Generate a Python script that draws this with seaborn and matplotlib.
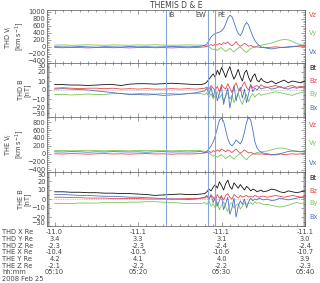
import matplotlib
matplotlib.use("Agg")
import matplotlib.pyplot as plt
import matplotlib.transforms as mtransforms
from matplotlib.ticker import MultipleLocator
import seaborn as sns
import pandas as pd

# minutes after 05:10 UT, 2008 Feb 25
T = [0, 1, 2, 3, 4, 5, 6, 7, 8, 9, 10, 11, 12, 13, 14, 15, 16, 17, 17.5,
     18, 18.25, 18.5, 18.75, 19, 19.25, 19.5, 19.75, 20, 20.25, 20.5, 20.75,
     21, 21.25, 21.5, 21.75, 22, 22.25, 22.5, 22.75, 23, 23.25, 23.5, 23.75,
     24, 24.25, 24.5, 24.75, 25,
     25.5, 26, 26.5, 27, 27.5, 28, 28.5, 29, 29.5, 30]

# THD ion velocity (km/s)
thd_vx = [5, 0, -5, 10, 0, -10, 5, 0, -5, 10, 0, 5, -5, 0, 10, 5, 0, 10, 20,
          40, 80, 180, 280, 340, 380, 400, 420, 450, 520, 650, 820, 900, 860, 700, 520,
          380, 320, 420, 600, 700, 620, 450, 300, 180, 100, 40, 0, -20,
          -40, -60, -40, -20, -10, 0, 10, 20, 40, 50]
thd_vy = [50, 55, 45, 50, 60, 50, 45, 55, 50, 45, 55, 50, 60, 50, 45, 50, 55, 50, 50,
          40, 20, 0, -40, -80, -60, -100, -50, -20, -80, -130, -90, -40, -100, -150,
          -80, -30, 0, -60, -120, -160, -100, -50, -20, 0, 20, 40, 50, 60,
          80, 110, 150, 190, 210, 200, 150, 100, 60, 50]
thd_vz = [-20, -25, -15, -20, -30, -20, -15, -25, -20, -30, -20, -15, -25, -20, -30, -20, -25, -20, -10,
          0, 20, 40, 60, 30, 80, 50, 100, 60, 120, 90, 140, 70, 30, 80, 150, 60, 20,
          50, 100, 60, 20, 40, 10, -10, 0, -10, -20, -10,
          -20, -10, 0, -10, -20, -10, 0, 10, 0, 10]

# THD magnetic field (nT)
thd_bt = [6, 6, 5.5, 5.5, 5, 5.5, 6, 6, 5, 6.5, 7, 7, 6.5, 7, 7.5, 7, 6.5, 6, 6,
          7, 9, 12, 15, 18, 14, 22, 17, 25, 20, 14, 21, 26, 18, 12, 17, 23, 15, 10,
          19, 22, 14, 9, 15, 18, 11, 9, 13, 10,
          8, 10, 7, 9, 11, 8, 10, 9, 8, 10]
thd_bz = [2, 2.5, 2, 1.5, 2, 2, 1.5, 2, 1, 1.5, 1, 1.5, 1, 1, 1.5, 1, 1.5, 1, 1.5,
          2, 3, 1, 5, 2, 0, 4, -2, 6, 3, 1, 7, 2, -3, 4, 8, 1, -1, 5, 9, 3, 0, 6, 2,
          4, 5, 3, 6, 4,
          3, 4, 5, 3, 2, 4, 5, 3, 4, 3]
thd_by = [-5, -5, -5.5, -5, -4.5, -5, -5, -4, -4, -4.5, -4, -4, -4.5, -4, -4, -4.5, -4, -4, -4,
          -5, -3, -8, -4, -10, -6, -2, -9, -5, -12, -7, -3, -10, -6, -14, -8, -4, -11,
          -16, -9, -5, -13, -7, -4, -8, -5, -4, -6, -5,
          -4, -3, -2, -3, -4, -5, -6, -4, -3, -2]
thd_bx = [1, 1.5, 1, 0.5, 0, -1, -2, -3, -4, -5, -5, -5.5, -5, -6, -5.5, -5, -4, -3, -2,
          -1, 2, -5, 3, -8, 1, -12, -4, 4, -16, -6, 2, -20, -8, 5, -12, -3, 3, -9, 1,
          -14, -4, 6, -2, 2, 0, 3, 1, 2,
          3, 1, 2, 4, 2, 1, 3, 2, 3, 2]

# THE ion velocity (km/s)
the_vx = [50, 45, 55, 50, 40, 50, 45, 55, 50, 45, 50, 40, 50, 55, 45, 50, 45, 50, 60,
          30, 60, 120, 200, 300, 450, 650, 850, 900, 820, 600, 380, 250, 200, 260, 350,
          300, 250, 350, 550, 800, 920, 850, 600, 300, 150, 80, 40, 20,
          0, -20, -30, 0, 30, 60, 70, 60, 50, 60]
the_vy = [80, 85, 75, 80, 90, 80, 75, 85, 80, 75, 85, 80, 90, 80, 75, 80, 85, 80, 80,
          60, 40, 20, -20, -60, -40, -90, -50, -20, -70, -120, -80, -40, -90, -140, -70,
          -30, 10, -50, -110, -150, -90, -40, -10, 10, 30, 40, 50, 60,
          70, 100, 130, 150, 140, 110, 80, 70, 60, 70]
the_vz = [0, -5, 5, 0, -10, 0, 5, -5, 0, -10, 0, 5, -5, 0, -10, 0, -5, 0, 10,
          20, 40, 60, 30, 80, 50, 100, 60, 120, 90, 50, 100, 70, 30, 80, 120, 60, 20,
          50, 100, 60, 20, 40, 10, -10, 0, -10, 0, -10,
          -20, -30, -10, 0, -20, -10, 0, -10, 0, 10]

# THE magnetic field (nT)
the_bt = [8, 8, 7.5, 7.5, 7, 7, 6.5, 6.5, 6, 6, 5.5, 5, 4, 4.5, 5, 5.5, 5, 5, 5.5,
          6, 8, 11, 9, 13, 16, 12, 19, 15, 10, 17, 21, 14, 11, 18, 15, 12, 16, 13, 10,
          14, 12, 9, 11, 10, 8, 9, 10, 8,
          9, 11, 10, 8, 7, 9, 8, 7, 8, 9]
the_bz = [2, 2, 1.5, 1.5, 1, 1, 1, 0.5, 0.5, 0.5, 0.5, 0, 0, 0, 0, 0, 0.5, 0.5, 1,
          1, 3, 0, 4, 2, -2, 5, 1, 3, -1, 4, 6, 2, 0, 5, 3, 1, 4, 2, 3, 4, 2, 3, 2,
          4, 3, 2, 3, 3,
          2, 3, 4, 3, 2, 3, 4, 3, 2, 3]
the_by = [-5, -5, -5, -4.5, -4.5, -4.5, -4, -4, -4, -3.5, -3.5, -3, -3, -3.5, -4, -4.5, -5, -5, -5,
          -4, -6, -2, -8, -5, -10, -4, -12, -7, -3, -9, -14, -6, -4, -10, -7, -5, -11,
          -8, -4, -6, -5, -4, -6, -3, -5, -4, -5, -6,
          -6, -7, -8, -9, -8, -7, -5, -4, -5, -4]
the_bx = [5, 5, 4.5, 4, 4, 3.5, 3, 3, 2.5, 2, 2, 1.5, 1, 0.5, 0, 0, -0.5, 0, 1,
          2, 4, 0, 5, -4, 3, -8, -2, 4, -12, -5, 2, -17, -10, 1, -20, -8, -2, -6, 0,
          -10, -3, 1, -2, 0, -1, 1, 0, -1,
          0, -2, -1, 1, 0, -1, 0, 1, 2, 1]

# event markers (minutes after 05:10)
event_names = ["IB", "EW", "PE"]
event_times = [13.3, 18.4, 19.2]

# orbit table below the panels
tick_times = [0, 10, 20, 30]
tick_labels = ["05:10", "05:20", "05:30", "05:40"]
row_names = ["THD X Re", "THD Y Re", "THD Z Re", "THE X Re", "THE Y Re", "THE Z Re"]
row_values = [["-11.0", "-11.1", "-11.1", "-11.1"],
              ["3.4", "3.3", "3.1", "3.0"],
              ["-2.3", "-2.3", "-2.4", "-2.4"],
              ["-10.4", "-10.5", "-10.6", "-10.7"],
              ["4.2", "4.1", "4.0", "3.9"],
              ["-2.1", "-2.2", "-2.2", "-2.3"]]

RED, GREEN, BLUE, BLACK = "#e8474c", "#7cc55a", "#4a72c6", "#111111"
TXT = "#444444"
FS = 4.8


def main():
    sns.set_style("ticks")
    plt.rcParams['font.family'] = ['DejaVu Sans']
    W, H = 320, 283
    fig = plt.figure(figsize=(W / 100, H / 100), dpi=100)

    left, right = 47, 305
    bounds = [(10, 63), (63, 117), (117, 172), (172, 226)]
    axes = []
    for top, bot in bounds:
        ax = fig.add_axes([left / W, 1 - bot / H, (right - left) / W, (bot - top) / H])
        axes.append(ax)

    vel_panels = [(axes[0], thd_vx, thd_vy, thd_vz, (-460, 1050), "THD V$_i$\n[km s$^{-1}$]"),
                  (axes[2], the_vx, the_vy, the_vz, (-460, 930), "THE V$_i$\n[km s$^{-1}$]")]
    mag_panels = [(axes[1], thd_bt, thd_bz, thd_by, thd_bx, "THD B\n[nT]"),
                  (axes[3], the_bt, the_bz, the_by, the_bx, "THE B\n[nT]")]

    for ax, vx, vy, vz, ylim, label in vel_panels:
        df = pd.DataFrame({"t": T, "Vx": vx, "Vy": vy, "Vz": vz})
        for col, c in [("Vy", GREEN), ("Vz", RED), ("Vx", BLUE)]:
            sns.lineplot(data=df, x="t", y=col, ax=ax, color=c, lw=0.6)
        ax.set_ylim(*ylim)
        ax.yaxis.set_major_locator(MultipleLocator(200))
        ax.yaxis.set_minor_locator(MultipleLocator(50))
        ax.set_ylabel(label, fontsize=FS, color=TXT, labelpad=1, linespacing=0.9)

    for ax, bt, bz, by, bx, label in mag_panels:
        df = pd.DataFrame({"t": T, "Bt": bt, "Bz": bz, "By": by, "Bx": bx})
        ax.axhline(0, color="#999999", lw=0.5, ls=(0, (1, 1.5)))
        for col, c in [("By", GREEN), ("Bx", BLUE), ("Bz", RED), ("Bt", BLACK)]:
            sns.lineplot(data=df, x="t", y=col, ax=ax, color=c, lw=0.6)
        ax.set_ylim(-30, 30)
        ax.yaxis.set_major_locator(MultipleLocator(10))
        ax.yaxis.set_minor_locator(MultipleLocator(1))
        ax.set_ylabel(label, fontsize=FS, color=TXT, labelpad=1, linespacing=0.9)

    for ax in axes:
        ax.set_xlim(-0.9, 30.0)
        ax.xaxis.set_major_locator(MultipleLocator(10))
        ax.xaxis.set_minor_locator(MultipleLocator(1))
        ax.tick_params(axis="both", which="both", direction="in", top=True, right=True,
                       labelbottom=False, width=0.4, colors="#555555",
                       labelcolor=TXT, labelsize=FS, pad=1)
        ax.tick_params(which="major", length=3)
        ax.tick_params(which="minor", length=1.6)
        ax.set_xlabel("")
        for s in ax.spines.values():
            s.set_linewidth(0.5)
            s.set_color("#555555")
        for tm in event_times:
            ax.axvline(tm, color="#86a6da", lw=0.8)

    fig.canvas.draw()
    # keep the +-30 labels of the field panels inside their own panel
    for ax in (axes[1], axes[3]):
        labels = [lb for lb in ax.get_yticklabels() if lb.get_text()]
        lo, hi = ax.get_ylim()
        vis = [lb for lb in labels if lo <= lb.get_position()[1] <= hi]
        vis[0].set_va("bottom")
        vis[-1].set_va("top")

    axes[0].text(event_times[0] + 0.3, 1000, event_names[0], fontsize=FS, color=TXT, va="top")
    axes[0].text(event_times[1] - 0.2, 1000, event_names[1], fontsize=FS, color=TXT, va="top", ha="right")
    axes[0].text(event_times[2] + 0.3, 1000, event_names[2], fontsize=FS, color=TXT, va="top")

    fig.text(0.55, 1 - 5 / H, "THEMIS D & E", fontsize=5.5, color=TXT,
             ha="center", va="center")

    # labels on the right side
    right_labels = [("Vz", RED, 15), ("Vy", GREEN, 33), ("Vx", BLUE, 52),
                    ("Bt", BLACK, 68), ("Bz", RED, 81), ("By", GREEN, 94), ("Bx", BLUE, 108),
                    ("Vz", RED, 125), ("Vy", GREEN, 143), ("Vx", BLUE, 163),
                    ("Bt", BLACK, 178), ("Bz", RED, 191), ("By", GREEN, 203), ("Bx", BLUE, 217)]
    for txt, c, y in right_labels:
        fig.text(309 / W, 1 - y / H, txt, fontsize=FS, color=c, va="center", ha="left")

    # orbit table
    tr = mtransforms.blended_transform_factory(axes[3].transData, fig.transFigure)
    row_y = [232 + 6.75 * i for i in range(8)]
    for i, name in enumerate(row_names + ["hh:mm", "2008 Feb 25"]):
        fig.text(2 / W, 1 - row_y[i] / H, name, fontsize=FS, color=TXT, va="center")
    for j, tm in enumerate(tick_times):
        for i in range(6):
            axes[3].text(tm, 1 - row_y[i] / H, row_values[i][j], transform=tr,
                         fontsize=FS, color=TXT, ha="center", va="center")
        axes[3].text(tm, 1 - row_y[6] / H, tick_labels[j], transform=tr,
                     fontsize=FS, color=TXT, ha="center", va="center")

    fig.savefig("out.png", dpi=100)


if __name__ == '__main__':
    main()
